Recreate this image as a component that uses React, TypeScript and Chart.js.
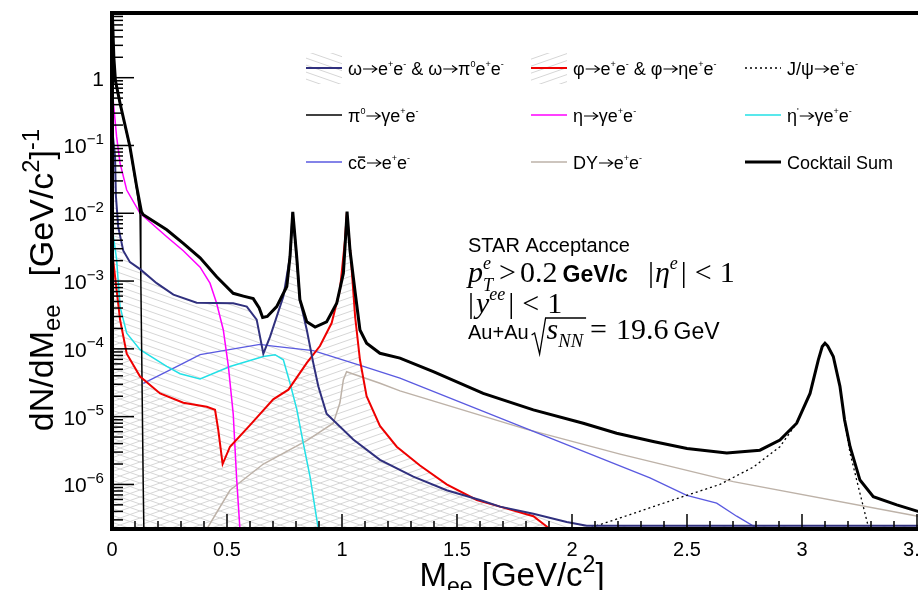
import React, { useEffect, useRef } from "react";
import { Chart, registerables } from "chart.js";
Chart.register(...registerables);

type P = [number, number];

// ---- axis ranges / ticks ----
const X_MIN = 0;
const X_MAX = 3.6;
const Y_MIN = 2.2e-7;
const Y_MAX = 9;
const xTickValues = [0, 0.5, 1, 1.5, 2, 2.5, 3, 3.5];
const xTickLabels = ["0", "0.5", "1", "1.5", "2", "2.5", "3", "3.5"];
const yTickExponents = [0, -1, -2, -3, -4, -5, -6];

// ---- series (Mee [GeV/c^2], dN/dMee) ----
const sumData: P[] = [
  [0.002, 8.0], [0.008, 2.0], [0.015, 0.9], [0.035, 0.42], [0.078, 0.096], [0.107, 0.025],
  [0.128, 0.0105], [0.136, 0.0095], [0.238, 5.7e-3], [0.31, 3.6e-3], [0.383, 2.2e-3],
  [0.455, 1.16e-3], [0.527, 6.6e-4], [0.571, 6.0e-4], [0.614, 5.5e-4], [0.64, 4.0e-4],
  [0.655, 2.9e-4], [0.675, 3.0e-4], [0.716, 4.2e-4], [0.76, 8.3e-4], [0.774, 2.3e-3],
  [0.786, 0.0105], [0.803, 2.3e-3], [0.817, 5.3e-4], [0.847, 2.5e-4], [0.883, 2.1e-4],
  [0.933, 2.5e-4], [0.977, 4.7e-4], [1.006, 1.3e-3], [1.014, 3.6e-3], [1.022, 0.0106],
  [1.035, 2.8e-3], [1.057, 6.9e-4], [1.078, 1.9e-4], [1.107, 1.21e-4], [1.165, 8.6e-5],
  [1.252, 7.3e-5], [1.397, 4.6e-5], [1.614, 2.2e-5], [1.832, 1.26e-5], [2.049, 8.0e-6],
  [2.194, 5.7e-6], [2.353, 4.3e-6], [2.5, 3.4e-6], [2.673, 2.9e-6], [2.817, 3.2e-6],
  [2.904, 4.5e-6], [2.977, 8.0e-6], [3.035, 2.2e-5], [3.071, 6.9e-5], [3.088, 1.08e-4],
  [3.1, 1.21e-4], [3.112, 1.1e-4], [3.136, 7.7e-5], [3.165, 2.8e-5], [3.185, 9.0e-6],
  [3.209, 3.6e-6], [3.252, 1.16e-6], [3.31, 6.6e-7], [3.412, 5.0e-7], [3.504, 4.0e-7], [3.6, 3.5e-7],
];
const omegaData: P[] = [
  [0.003, 0.15], [0.013, 0.07], [0.017, 0.018], [0.027, 6.3e-3], [0.049, 2.8e-3],
  [0.078, 1.9e-3], [0.122, 1.5e-3], [0.194, 9.3e-4], [0.267, 6.3e-4], [0.368, 4.8e-4],
  [0.527, 4.7e-4], [0.586, 4.2e-4], [0.629, 2.7e-4], [0.658, 8.5e-5], [0.687, 1.5e-4],
  [0.745, 5.9e-4], [0.774, 2.3e-3], [0.785, 0.0102], [0.803, 2.3e-3], [0.817, 5.3e-4],
  [0.847, 1.9e-4], [0.875, 6.2e-5], [0.897, 2.8e-5], [0.933, 1.1e-5], [1.049, 4.6e-6],
  [1.165, 2.3e-6], [1.31, 1.3e-6], [1.455, 8.2e-7], [1.6, 5.9e-7], [1.687, 4.7e-7],
  [1.832, 3.7e-7], [1.977, 2.8e-7], [2.064, 2.45e-7], [3.6, 2.45e-7],
];
const phiData: P[] = [
  [0.004, 2.2e-3], [0.02, 7.4e-4], [0.035, 2.7e-4], [0.064, 8.5e-5], [0.122, 3.9e-5],
  [0.209, 2.2e-5], [0.31, 1.6e-5], [0.412, 1.4e-5], [0.448, 1.26e-5], [0.462, 6.4e-6],
  [0.481, 2.0e-6], [0.513, 3.6e-6], [0.6, 7.5e-6], [0.701, 1.8e-5], [0.767, 2.5e-5],
  [0.847, 6.2e-5], [0.904, 1.1e-4], [0.955, 2.4e-4], [0.991, 7.4e-4], [1.013, 4.0e-3],
  [1.021, 0.0102], [1.038, 2.3e-3], [1.057, 3.0e-4], [1.078, 6.9e-5], [1.107, 2.0e-5],
  [1.165, 7.3e-6], [1.238, 3.6e-6], [1.339, 1.9e-6], [1.455, 1.0e-6], [1.586, 5.9e-7],
  [1.687, 4.7e-7], [1.832, 3.4e-7], [1.89, 2.4e-7], [1.93, 1.8e-7],
];
const pi0Data: P[] = [
  [0.002, 8.0], [0.008, 2.0], [0.015, 0.88], [0.035, 0.41], [0.078, 0.092], [0.107, 0.023],
  [0.122, 0.0095], [0.1254, 1e-3], [0.1289, 1e-4], [0.1323, 1e-5], [0.1357, 1e-6], [0.14, 1e-7],
];
const etaData: P[] = [
  [0.005, 0.47], [0.02, 0.135], [0.035, 0.055], [0.064, 0.022], [0.122, 0.01],
  [0.238, 4.5e-3], [0.31, 2.8e-3], [0.383, 1.6e-3], [0.426, 9.3e-4], [0.455, 4.7e-4],
  [0.484, 1.9e-4], [0.506, 5.5e-5], [0.527, 1.1e-5], [0.542, 1.2e-6], [0.557, 2e-7],
];
const etaPrimeData: P[] = [
  [0.005, 4.8e-3], [0.02, 2.1e-3], [0.035, 4.2e-4], [0.064, 1.7e-4], [0.122, 9.7e-5],
  [0.238, 5.5e-5], [0.296, 4.3e-5], [0.383, 3.6e-5], [0.513, 5.5e-5], [0.658, 7.7e-5],
  [0.709, 8.2e-5], [0.745, 6.9e-5], [0.774, 3.1e-5], [0.803, 1.3e-5], [0.832, 4.0e-6],
  [0.861, 1.3e-6], [0.897, 2.2e-7], [0.91, 1e-7],
];
const ccData: P[] = [
  [0.136, 3.1e-5], [0.296, 5.8e-5], [0.383, 8.2e-5], [0.643, 1.16e-4], [0.701, 1.1e-4],
  [0.875, 9.4e-5], [1.093, 5.5e-5], [1.252, 3.7e-5], [2.339, 1.25e-6], [2.499, 6.9e-7],
  [2.629, 5.3e-7], [2.716, 3.4e-7], [2.81, 2.2e-7], [2.83, 1.5e-7],
];
const dyData: P[] = [
  [0.405, 2.0e-7], [0.513, 8.2e-7], [0.658, 2.0e-6], [0.85, 4.5e-6], [0.962, 8.0e-6],
  [0.991, 1.6e-5], [1.006, 3.5e-5], [1.02, 4.6e-5], [1.165, 3.1e-5], [1.252, 2.4e-5],
  [1.796, 6.6e-6], [2.209, 2.8e-6], [2.701, 1.1e-6], [3.504, 3.4e-7], [3.6, 3.0e-7],
];
const jpsiData: P[] = [
  [2.064, 2.2e-7], [2.209, 3.2e-7], [2.353, 4.7e-7], [2.499, 6.9e-7], [2.643, 1.0e-6],
  [2.788, 1.8e-6], [2.904, 3.6e-6], [2.977, 8.0e-6], [3.035, 2.2e-5], [3.071, 6.9e-5],
  [3.088, 1.07e-4], [3.1, 1.2e-4], [3.112, 1.09e-4], [3.136, 7.7e-5], [3.165, 2.8e-5],
  [3.185, 8.5e-6], [3.209, 2.9e-6], [3.252, 7.4e-7], [3.288, 2.4e-7], [3.3, 1.5e-7],
];

const SANS = '"Liberation Sans", Arial, Helvetica, "DejaVu Sans", sans-serif';
const SERIF = '"Liberation Serif", "Times New Roman", "DejaVu Serif", serif';

type Seg = { t: string; s?: number; f?: string; st?: string; dy?: number; dx?: number; na?: boolean; ov?: boolean; arrow?: boolean };

const sup = (t: string, s = 0.5, dy = -0.42): Seg => ({ t, s, dy });
const sub = (t: string, s = 0.7, dy = 0.25, dx = 0): Seg => ({ t, s, dy, dx });
const AR: Seg = { t: "", arrow: true };
const ee: Seg[] = [{ t: "e" }, sup("+"), { t: "e" }, sup("-")];

type LegendItem = { label: Seg[]; color: string; width: number; dash?: number[]; hatch?: "omega" | "phi"; col: number; row: number };
const legendItems: LegendItem[] = [
  { label: [{ t: "ω" }, AR, ...ee, { t: " & ω" }, AR, { t: "π" }, sup("0"), ...ee], color: "#30307e", width: 2, hatch: "omega", col: 0, row: 0 },
  { label: [{ t: "φ" }, AR, ...ee, { t: " & φ" }, AR, { t: "η" }, ...ee], color: "#ee0000", width: 2, hatch: "phi", col: 1, row: 0 },
  { label: [{ t: "J/ψ" }, AR, ...ee], color: "#000000", width: 1.3, dash: [2, 3], col: 2, row: 0 },
  { label: [{ t: "π" }, sup("0"), AR, { t: "γ" }, ...ee], color: "#000000", width: 1.6, col: 0, row: 1 },
  { label: [{ t: "η" }, AR, { t: "γ" }, ...ee], color: "#ff00ff", width: 1.6, col: 1, row: 1 },
  { label: [{ t: "η" }, sup("'"), AR, { t: "γ" }, ...ee], color: "#22e0e6", width: 1.6, col: 2, row: 1 },
  { label: [{ t: "c" }, { t: "c", ov: true }, AR, ...ee], color: "#5a5ae0", width: 1.3, col: 0, row: 2 },
  { label: [{ t: "DY" }, AR, ...ee], color: "#bdb2a8", width: 1.6, col: 1, row: 2 },
  { label: [{ t: "Cocktail Sum" }], color: "#000000", width: 3, col: 2, row: 2 },
];

function segFont(g: Seg, base: number, fam: string) {
  return `${g.st ?? ""} ${(g.s ?? 1) * base}px ${g.f ?? fam}`;
}
function segW(ctx: CanvasRenderingContext2D, g: Seg, base: number, fam: string) {
  if (g.arrow) return (g.s ?? 1) * base * 0.88;
  ctx.font = segFont(g, base, fam);
  return ctx.measureText(g.t).width;
}
function richWidth(ctx: CanvasRenderingContext2D, segs: Seg[], base: number, fam: string) {
  let w = 0;
  for (const g of segs) if (!g.na) w += segW(ctx, g, base, fam) + (g.dx ?? 0);
  return w;
}
function drawRich(ctx: CanvasRenderingContext2D, segs: Seg[], x: number, y: number, base: number, fam: string, align = "left") {
  const w = richWidth(ctx, segs, base, fam);
  let cx = align === "center" ? x - w / 2 : align === "right" ? x - w : x;
  ctx.textAlign = "left";
  ctx.textBaseline = "alphabetic";
  for (const g of segs) {
    const m = segW(ctx, g, base, fam);
    const sz = (g.s ?? 1) * base;
    const yy = y + (g.dy ?? 0) * base;
    if (g.arrow) {
      const ay = yy - sz * 0.33;
      ctx.save();
      ctx.strokeStyle = ctx.fillStyle as string;
      ctx.lineWidth = 1.1;
      ctx.beginPath();
      ctx.moveTo(cx + 1, ay);
      ctx.lineTo(cx + m - 1, ay);
      ctx.moveTo(cx + m - 6, ay - 3.5);
      ctx.lineTo(cx + m - 1, ay);
      ctx.lineTo(cx + m - 6, ay + 3.5);
      ctx.stroke();
      ctx.restore();
    } else {
      ctx.font = segFont(g, base, fam);
      ctx.fillText(g.t, cx, yy);
    }
    if (g.ov) {
      ctx.save();
      ctx.strokeStyle = ctx.fillStyle as string;
      ctx.lineWidth = 1.4;
      ctx.beginPath();
      ctx.moveTo(cx + 1, yy - sz * 0.66);
      ctx.lineTo(cx + m - 1, yy - sz * 0.66);
      ctx.stroke();
      ctx.restore();
    }
    if (!g.na) cx += m + (g.dx ?? 0);
  }
  return cx;
}

function makeHatch(dir: number): CanvasPattern | string {
  const w = 20, h = 7;
  const c = document.createElement("canvas");
  c.width = w; c.height = h;
  const g = c.getContext("2d");
  if (!g) return "rgba(200,200,200,0.3)";
  g.strokeStyle = "#d6d6d6";
  g.lineWidth = 1;
  for (const off of [-h, 0, h]) {
    g.beginPath();
    if (dir > 0) { g.moveTo(0, off); g.lineTo(w, off + h); }
    else { g.moveTo(0, off + h); g.lineTo(w, off); }
    g.stroke();
  }
  return g.createPattern(c, "repeat") ?? "rgba(200,200,200,0.3)";
}

const toXY = (d: P[]) => d.map(([x, y]) => ({ x, y }));

export default function App() {
  const ref = useRef<HTMLCanvasElement>(null);
  useEffect(() => {
    if (!ref.current) return;
    const hatchOmega = makeHatch(1);
    const hatchPhi = makeHatch(-1);

    const decor = {
      id: "decor",
      afterDraw(chart: any) {
        const ctx: CanvasRenderingContext2D = chart.ctx;
        const xs = chart.scales.x;
        const ys = chart.scales.y;
        const { left, right, top, bottom } = chart.chartArea;
        ctx.save();
        ctx.fillStyle = "#000";
        ctx.strokeStyle = "#000";

        // ticks (inside)
        ctx.lineWidth = 1.5;
        for (let i = 0; i <= 36; i++) {
          const v = i / 10;
          const px = xs.getPixelForValue(v);
          const len = i % 5 === 0 ? 15 : 8;
          ctx.beginPath();
          ctx.moveTo(px, bottom);
          ctx.lineTo(px, bottom - len);
          ctx.stroke();
        }
        for (let d = -7; d <= 0; d++) {
          for (let m = 1; m <= 9; m++) {
            const v = m * Math.pow(10, d);
            if (v < Y_MIN || v > Y_MAX) continue;
            const py = ys.getPixelForValue(v);
            const len = m === 1 ? 22 : 11;
            ctx.beginPath();
            ctx.moveTo(left, py);
            ctx.lineTo(left + len, py);
            ctx.stroke();
          }
        }

        // frame
        ctx.lineWidth = 4;
        ctx.beginPath();
        ctx.moveTo(right + 10, top);
        ctx.lineTo(left, top);
        ctx.lineTo(left, bottom);
        ctx.lineTo(right + 10, bottom);
        ctx.stroke();

        // tick labels
        xTickValues.forEach((v, i) => {
          drawRich(ctx, [{ t: xTickLabels[i] }], xs.getPixelForValue(v), bottom + 27, 20, SANS, "center");
        });
        yTickExponents.forEach((e) => {
          const py = ys.getPixelForValue(Math.pow(10, e));
          const segs: Seg[] = e === 0 ? [{ t: "1" }] : [{ t: "10" }, { t: "−" + String(-e), s: 0.72, dy: -0.45 }];
          drawRich(ctx, segs, left - 8, py + 8, 21, SANS, "right");
        });

        // axis titles
        drawRich(ctx, [{ t: "M" }, sub("ee"), { t: " [GeV/c" }, sup("2", 0.7, -0.42), { t: "]" }], 512, 586, 33, SANS, "center");
        ctx.save();
        ctx.translate(53, 280);
        ctx.rotate(-Math.PI / 2);
        drawRich(ctx, [{ t: "dN/dM" }, sub("ee", 0.7, 0.2, 28), { t: "[GeV/c" }, sup("2", 0.7, -0.42), { t: "]" }, sup("-1", 0.7, -0.42)], 0, 0, 34, SANS, "center");
        ctx.restore();

        // legend
        const colX = [306, 531, 745];
        const rowY = [68, 115, 162];
        legendItems.forEach((it) => {
          const x0 = colX[it.col];
          const y0 = rowY[it.row];
          if (it.hatch) {
            ctx.save();
            ctx.fillStyle = it.hatch === "omega" ? (hatchOmega as any) : (hatchPhi as any);
            ctx.fillRect(x0, y0 - 15, 36, 31);
            ctx.restore();
          }
          ctx.save();
          ctx.strokeStyle = it.color;
          ctx.lineWidth = it.width;
          ctx.setLineDash(it.dash ?? []);
          ctx.beginPath();
          ctx.moveTo(x0, y0);
          ctx.lineTo(x0 + 36, y0);
          ctx.stroke();
          ctx.restore();
          drawRich(ctx, it.label, x0 + 42, y0 + 7, 18, SANS, "left");
        });

        // annotation
        const ax = 468;
        drawRich(ctx, [{ t: "STAR Acceptance" }], ax, 252, 20, SANS);
        drawRich(ctx, [
          { t: "p", st: "italic" },
          { t: "e", st: "italic", s: 0.6, dy: -0.45, na: true },
          { t: "T", st: "italic", s: 0.6, dy: 0.3, dx: 6 },
          { t: ">", dx: 4 },
          { t: "0.2", dx: 5 },
          { t: "GeV/c", f: SANS, st: "bold", s: 0.77, dx: 20 },
          { t: "|", dx: 1 },
          { t: "η", st: "italic" },
          { t: "e", st: "italic", s: 0.6, dy: -0.45, dx: 3 },
          { t: "|", dx: 8 },
          { t: "<", dx: 8 },
          { t: "1" },
        ], ax, 282, 30, SERIF);
        drawRich(ctx, [
          { t: "|", dx: 2 },
          { t: "y", st: "italic" },
          { t: "ee", st: "italic", s: 0.6, dy: -0.45, dx: 3 },
          { t: "|", dx: 8 },
          { t: "<", dx: 8 },
          { t: "1" },
        ], ax, 313, 30, SERIF);
        let cx = drawRich(ctx, [{ t: "Au+Au" }], ax, 339, 20, SANS);
        const rx = cx + 3;
        const inner: Seg[] = [{ t: "s", st: "italic" }, { t: "NN", st: "italic", s: 0.62, dy: 0.28 }];
        const iw = richWidth(ctx, inner, 30, SERIF);
        ctx.save();
        ctx.lineWidth = 1.3;
        ctx.beginPath();
        ctx.moveTo(rx, 335);
        ctx.lineTo(rx + 3, 333);
        ctx.lineTo(rx + 8, 354);
        ctx.lineTo(rx + 14, 318);
        ctx.lineTo(rx + 15 + iw + 3, 318);
        ctx.stroke();
        ctx.restore();
        cx = drawRich(ctx, inner, rx + 15, 339, 30, SERIF);
        cx = drawRich(ctx, [{ t: "=", dx: 9 }, { t: "19.6" }], cx + 7, 339, 30, SERIF);
        drawRich(ctx, [{ t: "GeV" }], cx + 5, 339, 23, SANS);

        ctx.restore();
      },
    };

    const ds = (label: string, data: P[], color: string, width: number, order: number, extra: any = {}) => ({
      label,
      data: toXY(data),
      borderColor: color,
      backgroundColor: color,
      borderWidth: width,
      pointRadius: 0,
      tension: 0,
      fill: false,
      order,
      ...extra,
    });

    const chart = new Chart(ref.current, {
      type: "line",
      data: {
        datasets: [
          ds("Cocktail Sum", sumData, "#000000", 3, 0),
          ds("ω→e+e- & ω→π0e+e-", omegaData, "#30307e", 2, 1, { fill: "start", backgroundColor: hatchOmega }),
          ds("φ→e+e- & φ→ηe+e-", phiData, "#ee0000", 2, 2, { fill: "start", backgroundColor: hatchPhi }),
          ds("π0→γe+e-", pi0Data, "#000000", 1.5, 3),
          ds("η→γe+e-", etaData, "#ff00ff", 1.5, 4),
          ds("η'→γe+e-", etaPrimeData, "#22e0e6", 1.5, 5),
          ds("J/ψ→e+e-", jpsiData, "#000000", 1.3, 6, { borderDash: [2, 3] }),
          ds("cc→e+e-", ccData, "#5a5ae0", 1.3, 7),
          ds("DY→e+e-", dyData, "#bdb2a8", 1.5, 8),
        ] as any,
      },
      options: {
        responsive: false,
        animation: false,
        devicePixelRatio: 1,
        layout: { padding: { left: 112, top: 13, right: 20, bottom: 61 } },
        scales: {
          x: { type: "linear", min: X_MIN, max: X_MAX, display: false },
          y: { type: "logarithmic", min: Y_MIN, max: Y_MAX, display: false },
        },
        plugins: {
          legend: { display: false },
          tooltip: { enabled: false },
          filler: { drawTime: "beforeDatasetsDraw" } as any,
        },
      } as any,
      plugins: [decor],
    });
    return () => chart.destroy();
  }, []);

  return (
    <div style={{ position: "fixed", left: 0, top: 0, width: 918, height: 590, overflow: "hidden", background: "#fff" }}>
      <canvas ref={ref} width={960} height={590} style={{ display: "block" }} />
    </div>
  );
}
